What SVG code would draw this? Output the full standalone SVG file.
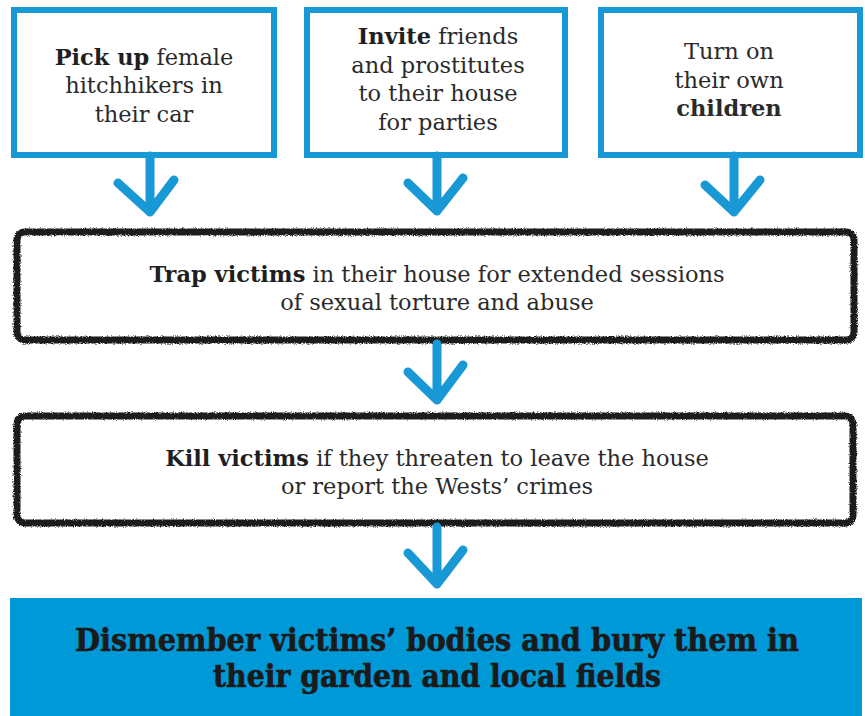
<svg xmlns="http://www.w3.org/2000/svg" width="865" height="716" viewBox="0 0 865 716">
<defs>
<filter id="rough" x="-5%" y="-20%" width="110%" height="140%">
<feTurbulence type="fractalNoise" baseFrequency="0.9" numOctaves="2" seed="3" result="n"/>
<feDisplacementMap in="SourceGraphic" in2="n" scale="3.5" xChannelSelector="R" yChannelSelector="G"/>
</filter>
</defs>
<style>
.blue{fill:#ffffff;stroke:#1899d6;stroke-width:6}
.black{fill:#ffffff;stroke:#1c1c1c;stroke-width:7;stroke-linejoin:round}
.t{font-family:"DejaVu Serif","Liberation Serif",serif;font-size:22.5px;fill:#2a2a2a;text-anchor:middle}
.b{font-weight:bold;fill:#1f1f1f}
.big{font-family:"DejaVu Serif","Liberation Serif",serif;font-size:32px;font-weight:bold;fill:#1a1a1a;stroke:#1a1a1a;stroke-width:0.7;text-anchor:middle}
.arrow{fill:none;stroke:#1899d6;stroke-width:9;stroke-linecap:round;stroke-linejoin:round}
</style>
<rect width="865" height="716" fill="#ffffff"/>

<g id="pickup">
<rect class="blue" x="14" y="10" width="260" height="145"/>
<text class="t" x="144" y="65"><tspan class="b">Pick up</tspan> female</text>
<text class="t" x="144" y="93">hitchhikers in</text>
<text class="t" x="144" y="122">their car</text>
</g>

<g id="invite">
<rect class="blue" x="307" y="10" width="258" height="145"/>
<text class="t" x="438" y="44"><tspan class="b">Invite</tspan> friends</text>
<text class="t" x="438" y="73">and prostitutes</text>
<text class="t" x="438" y="101">to their house</text>
<text class="t" x="438" y="130">for parties</text>
</g>

<g id="children">
<rect class="blue" x="601" y="10" width="259" height="145"/>
<text class="t" x="729" y="59">Turn on</text>
<text class="t" x="729" y="88">their own</text>
<text class="t" x="729" y="116" font-weight="bold" fill="#1f1f1f">children</text>
</g>

<g id="trap">
<rect class="black" x="17" y="232" width="837" height="108" rx="8" filter="url(#rough)"/>
<text class="t" x="437" y="282"><tspan class="b">Trap victims</tspan> in their house for extended sessions</text>
<text class="t" x="437" y="310">of sexual torture and abuse</text>
</g>

<g id="kill">
<rect class="black" x="17" y="416" width="836" height="107" rx="8" filter="url(#rough)"/>
<text class="t" x="437" y="466"><tspan class="b">Kill victims</tspan> if they threaten to leave the house</text>
<text class="t" x="437" y="494">or report the Wests’ crimes</text>
</g>

<g id="dismember">
<rect x="10" y="598" width="852" height="118" fill="#0099d8"/>
<text class="big" transform="translate(437 651) scale(0.9 1)" x="0" y="0">Dismember victims’ bodies and bury them in</text>
<text class="big" transform="translate(437 687) scale(0.885 1)" x="0" y="0">their garden and local fields</text>
</g>

<g id="connectors">
<path class="arrow" d="M150 156 V212 M118 183 L150 212 L174 180"/>
<path class="arrow" d="M437 156 V211 M408 183 L437 211 L463 178"/>
<path class="arrow" d="M734 156 V212 M705 185 L734 212 L760 180"/>
<path class="arrow" d="M437 344 V400 M408 372 L437 400 L463 365"/>
<path class="arrow" d="M437 527 V584 M408 553 L437 584 L463 550"/>
</g>
</svg>
